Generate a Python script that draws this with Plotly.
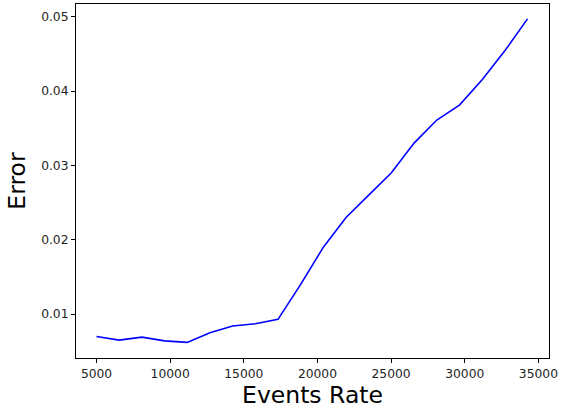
import plotly.graph_objects as go

events_rate = [5000, 6540, 8080, 9620, 11160, 12700, 14240, 15780, 17320, 18860,
               20400, 21940, 23480, 25020, 26560, 28100, 29640, 31180, 32720, 34260]
error = [0.0070, 0.0065, 0.0069, 0.0064, 0.0062, 0.0075, 0.0084, 0.0087, 0.0093, 0.0140,
         0.0190, 0.0230, 0.0260, 0.0290, 0.0330, 0.0361, 0.0381, 0.0415, 0.0454, 0.0497]
x_ticks = [5000, 10000, 15000, 20000, 25000, 30000, 35000]
y_ticks = [0.01, 0.02, 0.03, 0.04, 0.05]

fig = go.Figure()
fig.add_trace(go.Scatter(x=events_rate, y=error, mode="lines",
                         line=dict(color="#0000ff", width=1.6), showlegend=False))

axis_common = dict(showline=True, linecolor="black", linewidth=1, mirror=True,
                   ticks="outside", ticklen=4, tickwidth=1, tickcolor="black",
                   showgrid=False, zeroline=False, ticklabeloverflow="allow",
                   tickfont=dict(family="DejaVu Sans", size=12.3, color="#222"))

fig.update_layout(
    width=561, height=410,
    margin=dict(l=76, r=8, t=3, b=52),
    paper_bgcolor="white", plot_bgcolor="white",
    xaxis=dict(range=[3606, 35720], tickvals=x_ticks, ticktext=[str(v) for v in x_ticks],
               title=dict(text="Events Rate", font=dict(family="DejaVu Sans", size=23.5, color="black"),
                          standoff=5),
               **axis_common),
    yaxis=dict(range=[0.0041, 0.0517], tickvals=y_ticks, ticktext=[f"{v:.2f}" for v in y_ticks],
               title=dict(text="Error", font=dict(family="DejaVu Sans", size=23.5, color="black"),
                          standoff=8),
               **axis_common),
)
fig.write_html("out.html")
